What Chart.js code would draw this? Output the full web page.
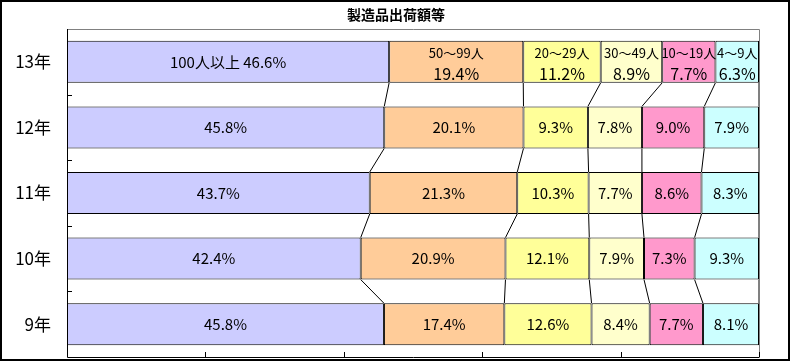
<!DOCTYPE html>
<html lang="ja">
<head>
<meta charset="utf-8">
<title>製造品出荷額等</title>
<script src="https://cdn.jsdelivr.net/npm/chart.js@4"></script>
<style>
  html, body { margin: 0; padding: 0; background: #fff; }
  #wrap { width: 792px; height: 362px; }
</style>
</head>
<body>
<div id="wrap"><canvas id="chart" width="792" height="362"></canvas></div>
<script>
// 年（上から順）
const years = ['13年', '12年', '11年', '10年', '9年'];
// 従業者規模
const sizeNames = ['100人以上', '50～99人', '20～29人', '30～49人', '10～19人', '4～9人'];
const sizeColors = ['#CCCCFF', '#FFCC99', '#FFFF99', '#FFFFCC', '#FF99CC', '#CCFFFF'];

// 構成比（%） 各規模ごと、years の順
const s100over = [46.6, 45.8, 43.7, 42.4, 45.8];
const s50to99 = [19.4, 20.1, 21.3, 20.9, 17.4];
const s20to29 = [11.2, 9.3, 10.3, 12.1, 12.6];
const s30to49 = [8.9, 7.8, 7.7, 7.9, 8.4];
const s10to19 = [7.7, 9.0, 8.6, 7.3, 7.7];
const s4to9 = [6.3, 7.9, 8.3, 9.3, 8.1];

const xTicks = [0, 20, 40, 60, 80, 100];

const seriesValues = [s100over, s50to99, s20to29, s30to49, s10to19, s4to9];

// 100%積み上げ用に合計で割る
const totals = years.map((_, i) => seriesValues.reduce((a, s) => a + s[i], 0));

const FONT = '"Noto Sans CJK JP", "Noto Sans", sans-serif';

// ラベル・系列線・枠線を描くプラグイン
const decorPlugin = {
  id: 'decor',
  afterDatasetsDraw(chart) {
    const ctx = chart.ctx;
    const area = chart.chartArea;
    const xs = chart.scales.x;
    const metas = chart.data.datasets.map((_, d) => chart.getDatasetMeta(d));

    ctx.save();
    // 系列線
    ctx.strokeStyle = '#000';
    ctx.lineWidth = 1;
    for (let i = 0; i < years.length - 1; i++) {
      for (let d = 0; d < metas.length; d++) {
        const a = metas[d].data[i];
        const b = metas[d].data[i + 1];
        ctx.beginPath();
        ctx.moveTo(a.x, a.y + a.height / 2);
        ctx.lineTo(b.x, b.y - b.height / 2);
        ctx.stroke();
      }
    }

    // データラベル
    ctx.fillStyle = '#000';
    ctx.textAlign = 'center';
    ctx.textBaseline = 'middle';
    metas.forEach((meta, d) => {
      meta.data.forEach((bar, i) => {
        const cx = (bar.x + bar.base) / 2;
        const val = seriesValues[d][i].toFixed(1) + '%';
        if (i === 0) {
          if (d === 0) {
            ctx.font = '15px ' + FONT;
            ctx.fillText(sizeNames[d] + ' ' + val, cx, bar.y);
          } else {
            ctx.font = '13px ' + FONT;
            ctx.fillText(sizeNames[d], cx, bar.y - 9);
            ctx.font = '16px ' + FONT;
            ctx.fillText(val, cx, bar.y + 12);
          }
        } else {
          ctx.font = '15px ' + FONT;
          ctx.fillText(val, cx, bar.y);
        }
      });
    });

    // プロットエリア枠（上・右は灰色）
    ctx.strokeStyle = '#808080';
    ctx.beginPath();
    ctx.moveTo(area.left, area.top + 0.5);
    ctx.lineTo(area.right + 0.5, area.top + 0.5);
    ctx.lineTo(area.right + 0.5, area.bottom);
    ctx.stroke();

    // 軸線
    ctx.strokeStyle = '#000';
    ctx.beginPath();
    ctx.moveTo(area.left + 0.5, area.top);
    ctx.lineTo(area.left + 0.5, area.bottom + 0.5);
    ctx.lineTo(area.right + 0.5, area.bottom + 0.5);
    ctx.stroke();

    // 縦軸の目盛（カテゴリ境界・内向き）
    const m0 = metas[0].data;
    ctx.beginPath();
    for (let i = 0; i < m0.length - 1; i++) {
      const yy = Math.round((m0[i].y + m0[i + 1].y) / 2) + 0.5;
      ctx.moveTo(area.left, yy);
      ctx.lineTo(area.left + 5, yy);
    }
    // 横軸の目盛（内向き）
    xTicks.forEach(t => {
      const xx = Math.round(xs.getPixelForValue(t)) + 0.5;
      ctx.moveTo(xx, area.bottom);
      ctx.lineTo(xx, area.bottom - 5);
    });
    ctx.stroke();

    // タイトル
    ctx.font = 'bold 14px ' + FONT;
    ctx.textAlign = 'center';
    ctx.fillText('製造品出荷額等', chart.width / 2, 15);

    // 外枠
    ctx.lineWidth = 2;
    ctx.strokeRect(1, 1, 788, 359);
    ctx.restore();
  }
};

new Chart(document.getElementById('chart'), {
  type: 'bar',
  data: {
    labels: years,
    datasets: sizeNames.map((name, d) => ({
      label: name,
      data: seriesValues[d].map((v, i) => v / totals[i] * 100),
      backgroundColor: sizeColors[d],
      borderColor: '#000',
      borderWidth: 1,
      borderSkipped: false,
      barPercentage: 0.64,
      categoryPercentage: 1.0
    }))
  },
  options: {
    indexAxis: 'y',
    responsive: false,
    animation: false,
    layout: { padding: { top: 29, right: 33, bottom: 5, left: 0 } },
    plugins: {
      legend: { display: false },
      title: { display: false },
      tooltip: { enabled: false }
    },
    scales: {
      x: {
        stacked: true,
        min: 0,
        max: 100,
        ticks: { display: false, stepSize: 20 },
        grid: { display: false, drawTicks: false },
        border: { display: false },
        afterFit(s) { s.height = 0; s.paddingLeft = 0; s.paddingRight = 0; }
      },
      y: {
        stacked: true,
        grid: { display: false, drawTicks: false },
        border: { display: false },
        ticks: { color: '#000', font: { size: 17, family: FONT }, padding: 16 },
        afterFit(s) { s.width = 67; s.paddingTop = 0; s.paddingBottom = 0; }
      }
    }
  },
  plugins: [decorPlugin]
});
</script>
</body>
</html>
